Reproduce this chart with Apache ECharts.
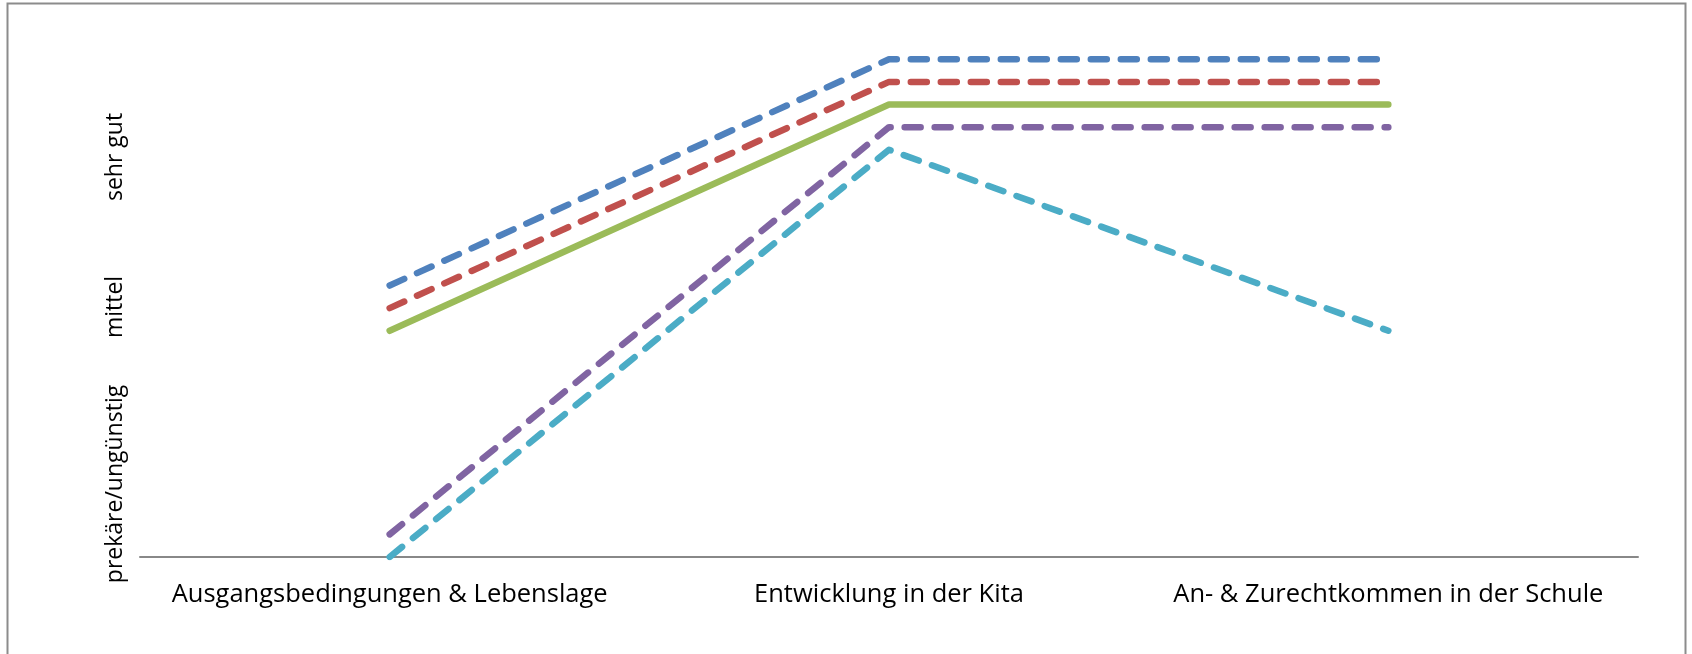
<!DOCTYPE html>
<html>
<head>
<meta charset="utf-8">
<script src="https://cdn.jsdelivr.net/npm/echarts@6/dist/echarts.min.js"></script>
<style>
  html, body { margin: 0; padding: 0; background: #fff; }
  #chart { width: 1692px; height: 654px; }
</style>
</head>
<body>
<div id="chart"></div>
<script>
// Stages along the x axis
const categories = ['Ausgangsbedingungen & Lebenslage', 'Entwicklung in der Kita', 'An- & Zurechtkommen in der Schule'];

// Trajectories (0 = prekär, higher = better)
const seriesBlue   = [12, 22, 22];
const seriesRed    = [11, 21, 21];
const seriesGreen  = [10, 20, 20];
const seriesPurple = [1, 19, 19];
const seriesCyan   = [0, 18, 10];

// Qualitative labels on the value axis
const levelLabels = ['prekäre/ungünstig', 'mittel', 'sehr gut'];

const FONT = 'Open Sans';
const dash = [16, 14];

function lineSeries(data, color, dashed) {
  return {
    type: 'line',
    data: data,
    symbol: 'none',
    silent: true,
    lineStyle: {
      color: color,
      width: 6.5,
      type: dashed ? dash : 'solid',
      cap: 'round',
      join: 'round'
    }
  };
}

const chart = echarts.init(document.getElementById('chart'), null, { renderer: 'canvas' });

const levelY = [484, 307, 157];

chart.setOption({
  animation: false,
  backgroundColor: '#ffffff',
  grid: { left: 140, right: 54, top: 14, bottom: 97 },
  xAxis: {
    type: 'category',
    data: categories,
    boundaryGap: true,
    axisLine: { show: true, lineStyle: { color: '#888888', width: 2 } },
    axisTick: { show: false },
    axisLabel: {
      color: '#000000',
      fontFamily: FONT,
      fontSize: 25.5,
      margin: 25,
      interval: 0,
      hideOverlap: false
    }
  },
  yAxis: {
    type: 'value',
    min: 0,
    max: 24,
    interval: 4,
    axisLine: { show: false },
    axisTick: { show: false },
    axisLabel: { show: false },
    splitLine: { show: false }
  },
  series: [
    lineSeries(seriesBlue, '#4F81BD', true),
    lineSeries(seriesRed, '#C0504D', true),
    lineSeries(seriesGreen, '#9BBB59', false),
    lineSeries(seriesPurple, '#8064A2', true),
    lineSeries(seriesCyan, '#4BACC6', true)
  ],
  graphic: [
    {
      type: 'rect',
      shape: { x: 7.5, y: 3.5, width: 1678, height: 700 },
      style: { fill: 'none', stroke: '#8c8c8c', lineWidth: 2 },
      silent: true
    }
  ].concat(levelLabels.map((t, i) => ({
    type: 'text',
    x: 115,
    y: levelY[i],
    rotation: Math.PI / 2,
    style: {
      text: t,
      fill: '#000000',
      font: '23px "' + FONT + '"',
      align: 'center',
      verticalAlign: 'middle'
    },
    silent: true
  })))
});
</script>
</body>
</html>
